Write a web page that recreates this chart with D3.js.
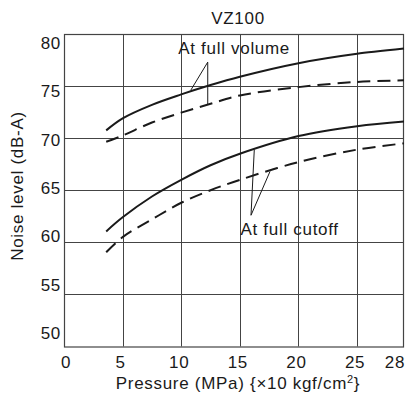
<!DOCTYPE html>
<html>
<head>
<meta charset="utf-8">
<script src="https://cdn.jsdelivr.net/npm/d3@7"></script>
<style>
  html, body { margin: 0; padding: 0; background: #fff; }
  svg { display: block; font-family: "Liberation Sans", Arial, sans-serif; }
</style>
</head>
<body>
<div id="chart"></div>
<script>
// data
const pressure = [3.6, 5, 7.5, 10, 12.5, 15, 20, 25, 29];
const volumeSolid = [70.75, 71.9, 73.2, 74.2, 75.1, 75.9, 77.2, 78.1, 78.6];
const volumeDashed = [69.65, 70.25, 71.5, 72.45, 73.3, 74.1, 74.9, 75.4, 75.55];
const cutoffSolid = [61.05, 62.4, 64.4, 66.0, 67.4, 68.5, 70.2, 71.15, 71.6];
const cutoffDashed = [59.05, 60.5, 62.2, 63.8, 65.0, 66.0, 67.7, 68.9, 69.5];

const xTicks = [0, 5, 10, 15, 20, 25];
const xLabels = ['0', '5', '10', '15', '20', '25', '28'];
const yTicks = [50, 55, 60, 65, 70, 75, 80];

const W = 409, H = 405;
const plot = { left: 64, right: 404, top: 34, bottom: 346.5 };

const svg = d3.select('#chart').append('svg')
  .attr('width', W).attr('height', H);

const x = d3.scaleLinear().domain([0, 29]).range([plot.left, plot.right]);
const y = d3.scaleLinear().domain([50, 80]).range([plot.bottom, plot.top]);
// tick labels sit a little off the grid in the original
const yLab = d3.scaleLinear().domain([50, 80]).range([333, 43]);

const ink = '#1a1a1a';
const fs = 17;
const ls = 0.7;

// grid
const grid = svg.append('g').attr('stroke', '#444').attr('stroke-width', 1);
grid.selectAll('.h').data(yTicks.slice(1, -1)).join('line')
  .attr('x1', plot.left).attr('x2', plot.right)
  .attr('y1', d => Math.round(y(d)) + 0.5).attr('y2', d => Math.round(y(d)) + 0.5);
grid.selectAll('.v').data(xTicks.slice(1)).join('line')
  .attr('y1', plot.top).attr('y2', plot.bottom)
  .attr('x1', d => Math.round(x(d)) + 0.5).attr('x2', d => Math.round(x(d)) + 0.5);

// frame
svg.append('rect')
  .attr('x', plot.left + 0.5).attr('y', plot.top + 0.5)
  .attr('width', plot.right - plot.left - 1).attr('height', plot.bottom - plot.top)
  .attr('fill', 'none').attr('stroke', '#444').attr('stroke-width', 1.2);

// curves
const line = d3.line()
  .x((d, i) => x(pressure[i]))
  .y(d => y(d))
  .curve(d3.curveCatmullRom.alpha(0.5));

const series = [
  { vals: volumeSolid, dash: null },
  { vals: volumeDashed, dash: '13,7' },
  { vals: cutoffSolid, dash: null },
  { vals: cutoffDashed, dash: '13,7' }
];
svg.append('g').selectAll('path').data(series).join('path')
  .attr('d', d => line(d.vals))
  .attr('fill', 'none')
  .attr('stroke', ink)
  .attr('stroke-width', 2)
  .attr('stroke-dasharray', d => d.dash);

// y tick labels
svg.append('g').selectAll('text').data(yTicks).join('text')
  .attr('x', 61).attr('y', d => yLab(d))
  .attr('dy', '0.35em')
  .attr('text-anchor', 'end')
  .attr('font-size', fs).attr('letter-spacing', ls)
  .attr('fill', ink)
  .text(d => d);

// x tick labels (last one is the right edge, "28")
const xLabPos = xTicks.concat([28.4]);
svg.append('g').selectAll('text').data(xLabels).join('text')
  .attr('x', (d, i) => x(xLabPos[i]) - (i === 0 ? -2 : 2))
  .attr('y', 368)
  .attr('text-anchor', 'middle')
  .attr('font-size', fs).attr('letter-spacing', ls)
  .attr('fill', ink)
  .text(d => d);

// titles
svg.append('text')
  .attr('x', 238).attr('y', 24)
  .attr('text-anchor', 'middle')
  .attr('font-size', fs).attr('letter-spacing', ls).attr('fill', ink)
  .text('VZ100');

const xt = svg.append('text')
  .attr('x', 238).attr('y', 389)
  .attr('text-anchor', 'middle')
  .attr('font-size', fs).attr('letter-spacing', ls).attr('fill', ink);
xt.append('tspan').text('Pressure (MPa) {\u00d710 kgf/cm');
xt.append('tspan').attr('font-size', 11).attr('dy', -6).text('2');
xt.append('tspan').attr('dy', 6).text('}');

svg.append('text')
  .attr('transform', 'translate(23,186) rotate(-90)')
  .attr('text-anchor', 'middle')
  .attr('font-size', fs).attr('letter-spacing', ls).attr('fill', ink)
  .text('Noise level (dB-A)');

// annotations, placed in data units
const notes = [
  { text: 'At full volume', at: [9.74, 78.05], apex: [12.26, 77.3], ends: [[10.81, 74.6], [12.26, 73.2]] },
  { text: 'At full cutoff', at: [15.05, 60.74], apex: [15.95, 62.6], ends: [[16.23, 68.9], [17.57, 66.8]] }
];
const ann = svg.append('g');
notes.forEach(n => {
  ann.append('text')
    .attr('x', x(n.at[0])).attr('y', y(n.at[1]))
    .attr('font-size', fs).attr('letter-spacing', ls).attr('fill', ink)
    .text(n.text);
  n.ends.forEach(e => {
    ann.append('line')
      .attr('x1', x(n.apex[0])).attr('y1', y(n.apex[1]))
      .attr('x2', x(e[0])).attr('y2', y(e[1]))
      .attr('stroke', ink).attr('stroke-width', 1);
  });
});
</script>
</body>
</html>
